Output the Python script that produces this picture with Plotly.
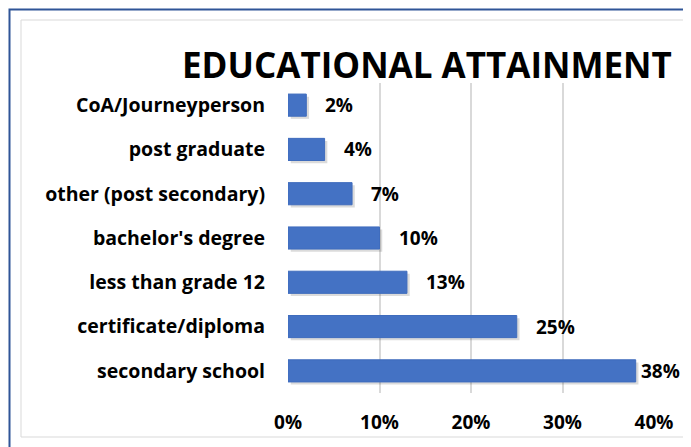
import plotly.graph_objects as go

categories = ["secondary school", "certificate/diploma", "less than grade 12",
              "bachelor's degree", "other (post secondary)", "post graduate",
              "CoA/Journeyperson"]
values = [0.38, 0.25, 0.13, 0.10, 0.07, 0.04, 0.02]
value_labels = ["38%", "25%", "13%", "10%", "7%", "4%", "2%"]
tick_vals = [0, 0.1, 0.2, 0.3, 0.4]
tick_text = ["0%", "10%", "20%", "30%", "40%"]
title_text = "EDUCATIONAL ATTAINMENT"

W, H = 691, 447
L, R, T, B = 280, 45, 75, 62
pw, ph = W - L - R, H - T - B
XMAX = 0.4

def px_x(px):
    return (px - L) / pw

def px_y(py):
    return (H - B - py) / ph

FONT = "Open Sans"

fig = go.Figure()
# soft shadow under the bars
fig.add_trace(go.Bar(
    y=categories, x=values, orientation="h", base=0.003,
    width=0.5, offset=-0.25 - 0.06,
    marker=dict(color="rgba(0,0,0,0.14)", line=dict(width=0)),
    hoverinfo="skip",
))
fig.add_trace(go.Bar(
    y=categories, x=values, orientation="h",
    width=0.5, offset=-0.25,
    marker=dict(color="#4472C4", line=dict(color="#3F6CBD", width=1)),
    hoverinfo="skip",
))

# data labels: a fixed gap after the bar end, pulled back if they would leave the chart
label_w = 40
right_limit = 671
for c, v, t in zip(categories, values, value_labels):
    bar_end = L + v / XMAX * pw
    shift = min(17, right_limit - label_w - bar_end)
    fig.add_annotation(x=v, y=c, text="<b>%s</b>" % t, showarrow=False,
                       xanchor="left", yanchor="middle", xshift=shift, yshift=0,
                       font=dict(family=FONT, size=19, color="#000000"))

fig.add_annotation(xref="paper", yref="paper", x=px_x(419), y=px_y(57),
                   text="<b>%s</b>" % title_text, showarrow=False,
                   xanchor="center", yanchor="middle",
                   font=dict(family=FONT, size=35, color="#000000"))

# outer blue border and inner grey border
fig.add_shape(type="rect", xref="paper", yref="paper",
              x0=px_x(1.5), x1=px_x(720), y0=px_y(480), y1=px_y(1.5),
              line=dict(color="#2F5597", width=2), layer="below")
fig.add_shape(type="rect", xref="paper", yref="paper",
              x0=px_x(13), x1=px_x(678), y0=px_y(429), y1=px_y(12),
              line=dict(color="#D9D9D9", width=1), layer="below")

fig.update_layout(
    width=W, height=H,
    margin=dict(l=L, r=R, t=T, b=B),
    paper_bgcolor="white", plot_bgcolor="white",
    showlegend=False,
    barmode="overlay",
    font=dict(family=FONT, color="#000000"),
)
fig.update_xaxes(range=[0, XMAX], tickvals=tick_vals, ticktext=["<b>%s</b>" % t for t in tick_text],
                 showgrid=True, gridcolor="#D9D9D9", gridwidth=2, zeroline=False,
                 showline=False, tickfont=dict(family=FONT, size=19, color="#000000"),
                 ticklabelstandoff=16, fixedrange=True)
fig.update_yaxes(categoryorder="array", categoryarray=categories,
                 ticktext=["<b>%s</b>" % c for c in categories], tickvals=categories,
                 showgrid=False, zeroline=False, showline=False,
                 tickfont=dict(family=FONT, size=19.5, color="#000000"),
                 ticklabelstandoff=22, fixedrange=True)

fig.write_html("out.html", config={"displayModeBar": False})
